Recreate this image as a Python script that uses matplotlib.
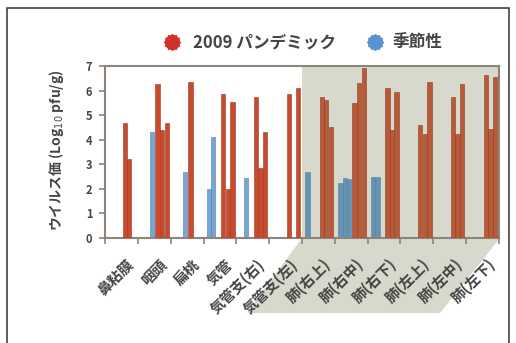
import numpy as np
import matplotlib.pyplot as plt
import matplotlib.transforms as mtransforms
from matplotlib.patches import Polygon, Rectangle
from matplotlib.lines import Line2D

plt.rcParams['font.family'] = ['Noto Sans CJK JP', 'DejaVu Sans']

# ---- data: virus titre per tissue, up to three animals each (nan = none) ----
organs = ["鼻粘膜", "咽頭", "扁桃", "気管", "気管支(右)", "気管支(左)",
          "肺(右上)", "肺(右中)", "肺(右下)", "肺(左上)", "肺(左中)", "肺(左下)"]

pandemic = [
    [4.7, 3.2, np.nan],
    [6.25, 4.4, 4.7],
    [6.35, np.nan, np.nan],
    [5.85, 2.0, 5.55],
    [5.75, 2.85, 4.3],
    [5.85, np.nan, 6.1],
    [5.75, 5.6, 4.5],
    [5.5, 6.3, 6.9],
    [6.1, 4.4, 5.95],
    [4.6, 4.25, 6.35],
    [5.75, 4.25, 6.25],
    [6.65, 4.45, 6.55],
]

seasonal = [
    [np.nan, np.nan, np.nan],
    [np.nan, np.nan, 4.3],
    [np.nan, np.nan, 2.7],
    [2.0, 4.1, np.nan],
    [np.nan, 2.45, np.nan],
    [np.nan, np.nan, np.nan],
    [2.7, np.nan, np.nan],
    [2.25, 2.45, 2.4],
    [2.5, 2.5, np.nan],
    [np.nan, np.nan, np.nan],
    [np.nan, np.nan, np.nan],
    [np.nan, np.nan, np.nan],
]

legend_labels = ["2009 パンデミック", "季節性"]
ylabel = "ウイルス価 (Log$_{10}$ pfu/g)"

# ---- style ----
W, H = 516, 343
spine_col = "#8e847c"
text_col = "#454545"
shade_col = "#d6d9cc"
red, red_lung = "#cb4a2d", "#b65a37"
blue, blue_lung = "#78a6d4", "#6694b0"
blue_off = [0.17, 0.30, 0.43]
red_off = [0.60, 0.74, 0.88]
bar_w = 0.13
first_lung = 6

fig = plt.figure(figsize=(W / 100, H / 100), dpi=100)
ax = fig.add_axes([105 / W, 1 - 238 / H, (499 - 105) / W, (238 - 66) / H])

n = len(organs)
ax.axvspan(first_lung, n, color=shade_col, lw=0, zorder=0)

for g in range(n):
    lung = g >= first_lung
    for k, v in enumerate(seasonal[g]):
        if not np.isnan(v):
            ax.bar(g + blue_off[k], v, width=bar_w,
                   color=blue_lung if lung else blue,
                   edgecolor="#4f7fa8", lw=0.4, zorder=2)
    for k, v in enumerate(pandemic[g]):
        if not np.isnan(v):
            ax.bar(g + red_off[k], v, width=bar_w,
                   color=red_lung if lung else red,
                   edgecolor="#963a25", lw=0.4, zorder=3)

ax.set_xlim(0, n)
ax.set_ylim(0, 7)
ax.set_yticks(range(8))
ax.set_xticks(range(n + 1))
ax.set_xticklabels([])
ax.set_xticks(np.arange(n) + 0.5, minor=True)
ax.set_xticklabels(organs, minor=True, rotation=45, ha="right",
                   rotation_mode="anchor", fontsize=10.5, fontweight="bold",
                   color=text_col)
ax.tick_params(axis="x", which="minor", length=0, pad=13)
ax.tick_params(axis="both", which="major", direction="out", length=4,
               width=1.2, color=spine_col, labelsize=8, labelcolor=text_col)
ax.tick_params(axis="y", pad=5)
for lab in ax.get_yticklabels():
    lab.set_fontweight("bold")
# nudge the rotated labels a little to the right
shift = mtransforms.ScaledTranslation(4 / 100, 0, fig.dpi_scale_trans)
for lab in ax.get_xticklabels(minor=True):
    lab.set_transform(lab.get_transform() + shift)
for sp in ax.spines.values():
    sp.set_color(spine_col)
    sp.set_linewidth(1.5)

# shaded band continues under the lung labels
band = Polygon([(302 / W, 1 - 238 / H), (500 / W, 1 - 238 / H),
                (440 / W, 1 - 313 / H), (247 / W, 1 - 313 / H)],
               closed=True, transform=fig.transFigure, color=shade_col,
               lw=0, zorder=-1)
fig.patches.append(band)

fig.text(57 / W, 1 - 150 / H, ylabel, rotation=90, ha="center", va="center",
         fontsize=10, fontweight="bold", color=text_col)

# legend with burst markers
for (x_m, x_t, col, lab) in [(172, 193, "#d2302a", legend_labels[0]),
                             (375, 393, "#5b93d0", legend_labels[1])]:
    y = 1 - 42 / H
    fig.add_artist(Line2D([x_m / W], [y], marker="o", ms=10, color=col,
                          mec=col, transform=fig.transFigure))
    fig.add_artist(Line2D([x_m / W], [y], marker=(12, 1, 0), ms=12, color=col,
                          mec=col, transform=fig.transFigure))
    fig.text(x_t / W, y, lab, ha="left", va="center", fontsize=12,
             fontweight="bold", color=text_col)

# outer frame
fig.patches.append(Rectangle((7 / W, -0.05), (509 - 7) / W, 1.05 - 8 / H,
                             transform=fig.transFigure, fill=False,
                             ec="#333333", lw=1.1))

fig.savefig("out.png", dpi=100)
